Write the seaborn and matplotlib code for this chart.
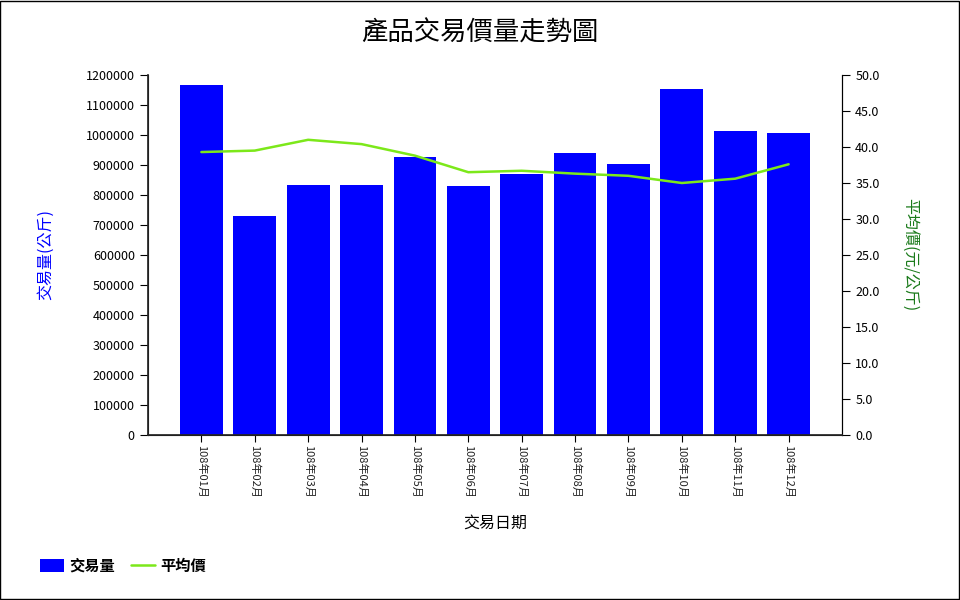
import matplotlib
matplotlib.use("Agg")
import matplotlib.pyplot as plt
import seaborn as sns
import pandas as pd
from matplotlib.patches import Patch
from matplotlib.lines import Line2D

months = ["108年01月", "108年02月", "108年03月", "108年04月", "108年05月", "108年06月",
          "108年07月", "108年08月", "108年09月", "108年10月", "108年11月", "108年12月"]
volume = [1167000, 730000, 833000, 833000, 927000, 830000,
          870000, 940000, 903000, 1153000, 1013000, 1007000]
price = [39.3, 39.5, 41.0, 40.4, 38.8, 36.5, 36.7, 36.3, 36.0, 35.0, 35.6, 37.6]

sns.set_theme(style="white")
plt.rcParams['font.family'] = ['Noto Sans CJK TC', 'DejaVu Sans']
plt.rcParams.update({"text.color": "black", "axes.labelcolor": "black",
                     "xtick.color": "black", "ytick.color": "black"})

df = pd.DataFrame({"month": months, "volume": volume, "price": price})

fig = plt.figure(figsize=(9.6, 6), dpi=100)
fig.patch.set_facecolor("white")
ax = fig.add_axes([148/960, 165/600, 694/960, 360/600])

sns.barplot(data=df, x="month", y="volume", color="#0000FF", saturation=1,
            width=0.8, ax=ax, edgecolor="none")
ax.set_xlim(-1, 12)
ax.set_ylim(0, 1200000)
ax.set_yticks(range(0, 1200001, 100000))
ax.set_yticklabels([str(v) for v in range(0, 1200001, 100000)], fontsize=9)
ax.tick_params(axis="x", labelrotation=-90, labelsize=8, direction="out", length=5,
               bottom=True, width=0.8, color="black", labelcolor="#222222", pad=2)
ax.tick_params(axis="y", direction="out", length=6, left=True, width=0.8, color="black",
               labelcolor="black")
ax.set_xlabel("交易日期", fontsize=11.5, labelpad=12, color="black")
ax.set_ylabel("交易量(公斤)", fontsize=11.5, color="#0000FF", labelpad=23)
for s in ["top"]:
    ax.spines[s].set_visible(False)
for s in ["left", "bottom", "right"]:
    ax.spines[s].set_color("black")
    ax.spines[s].set_linewidth(0.8)

ax2 = ax.twinx()
sns.lineplot(data=df, x="month", y="price", color="#7CE81A", linewidth=1.8, ax=ax2)
ax2.set_ylim(0, 50)
ax2.set_yticks([i * 5 for i in range(11)])
ax2.set_yticklabels([f"{i*5:.1f}" for i in range(11)], fontsize=9)
ax2.tick_params(axis="y", direction="out", length=6, right=True, width=0.8, color="black",
                labelcolor="black")
ax2.set_ylabel("平均價(元/公斤)", fontsize=11.5, color="#1A7A1A", rotation=270, labelpad=28)
ax2.spines["top"].set_visible(False)
ax2.spines["right"].set_color("black")
ax2.spines["right"].set_linewidth(0.8)
ax2.set_xlim(-1, 12)

fig.text(0.5, 1 - 33/600, "產品交易價量走勢圖", ha="center", va="center", fontsize=19,
         color="black", weight="medium")

handles = [Patch(facecolor="#0000FF", edgecolor="none"),
           Line2D([0], [0], color="#7CE81A", linewidth=1.8)]
fig.legend(handles, ["交易量", "平均價"], loc="center left", bbox_to_anchor=(26/960, 1 - 566/600),
           ncol=2, frameon=False, prop={"weight": "bold", "size": 11},
           handlelength=1.6, handleheight=0.9, handletextpad=0.35, columnspacing=1.0,
           labelcolor="black")

border = plt.Rectangle((0.0005, 0.001), 0.998, 0.997, transform=fig.transFigure,
                       fill=False, edgecolor="black", linewidth=1)
fig.add_artist(border)

fig.savefig("out.png", dpi=100)
